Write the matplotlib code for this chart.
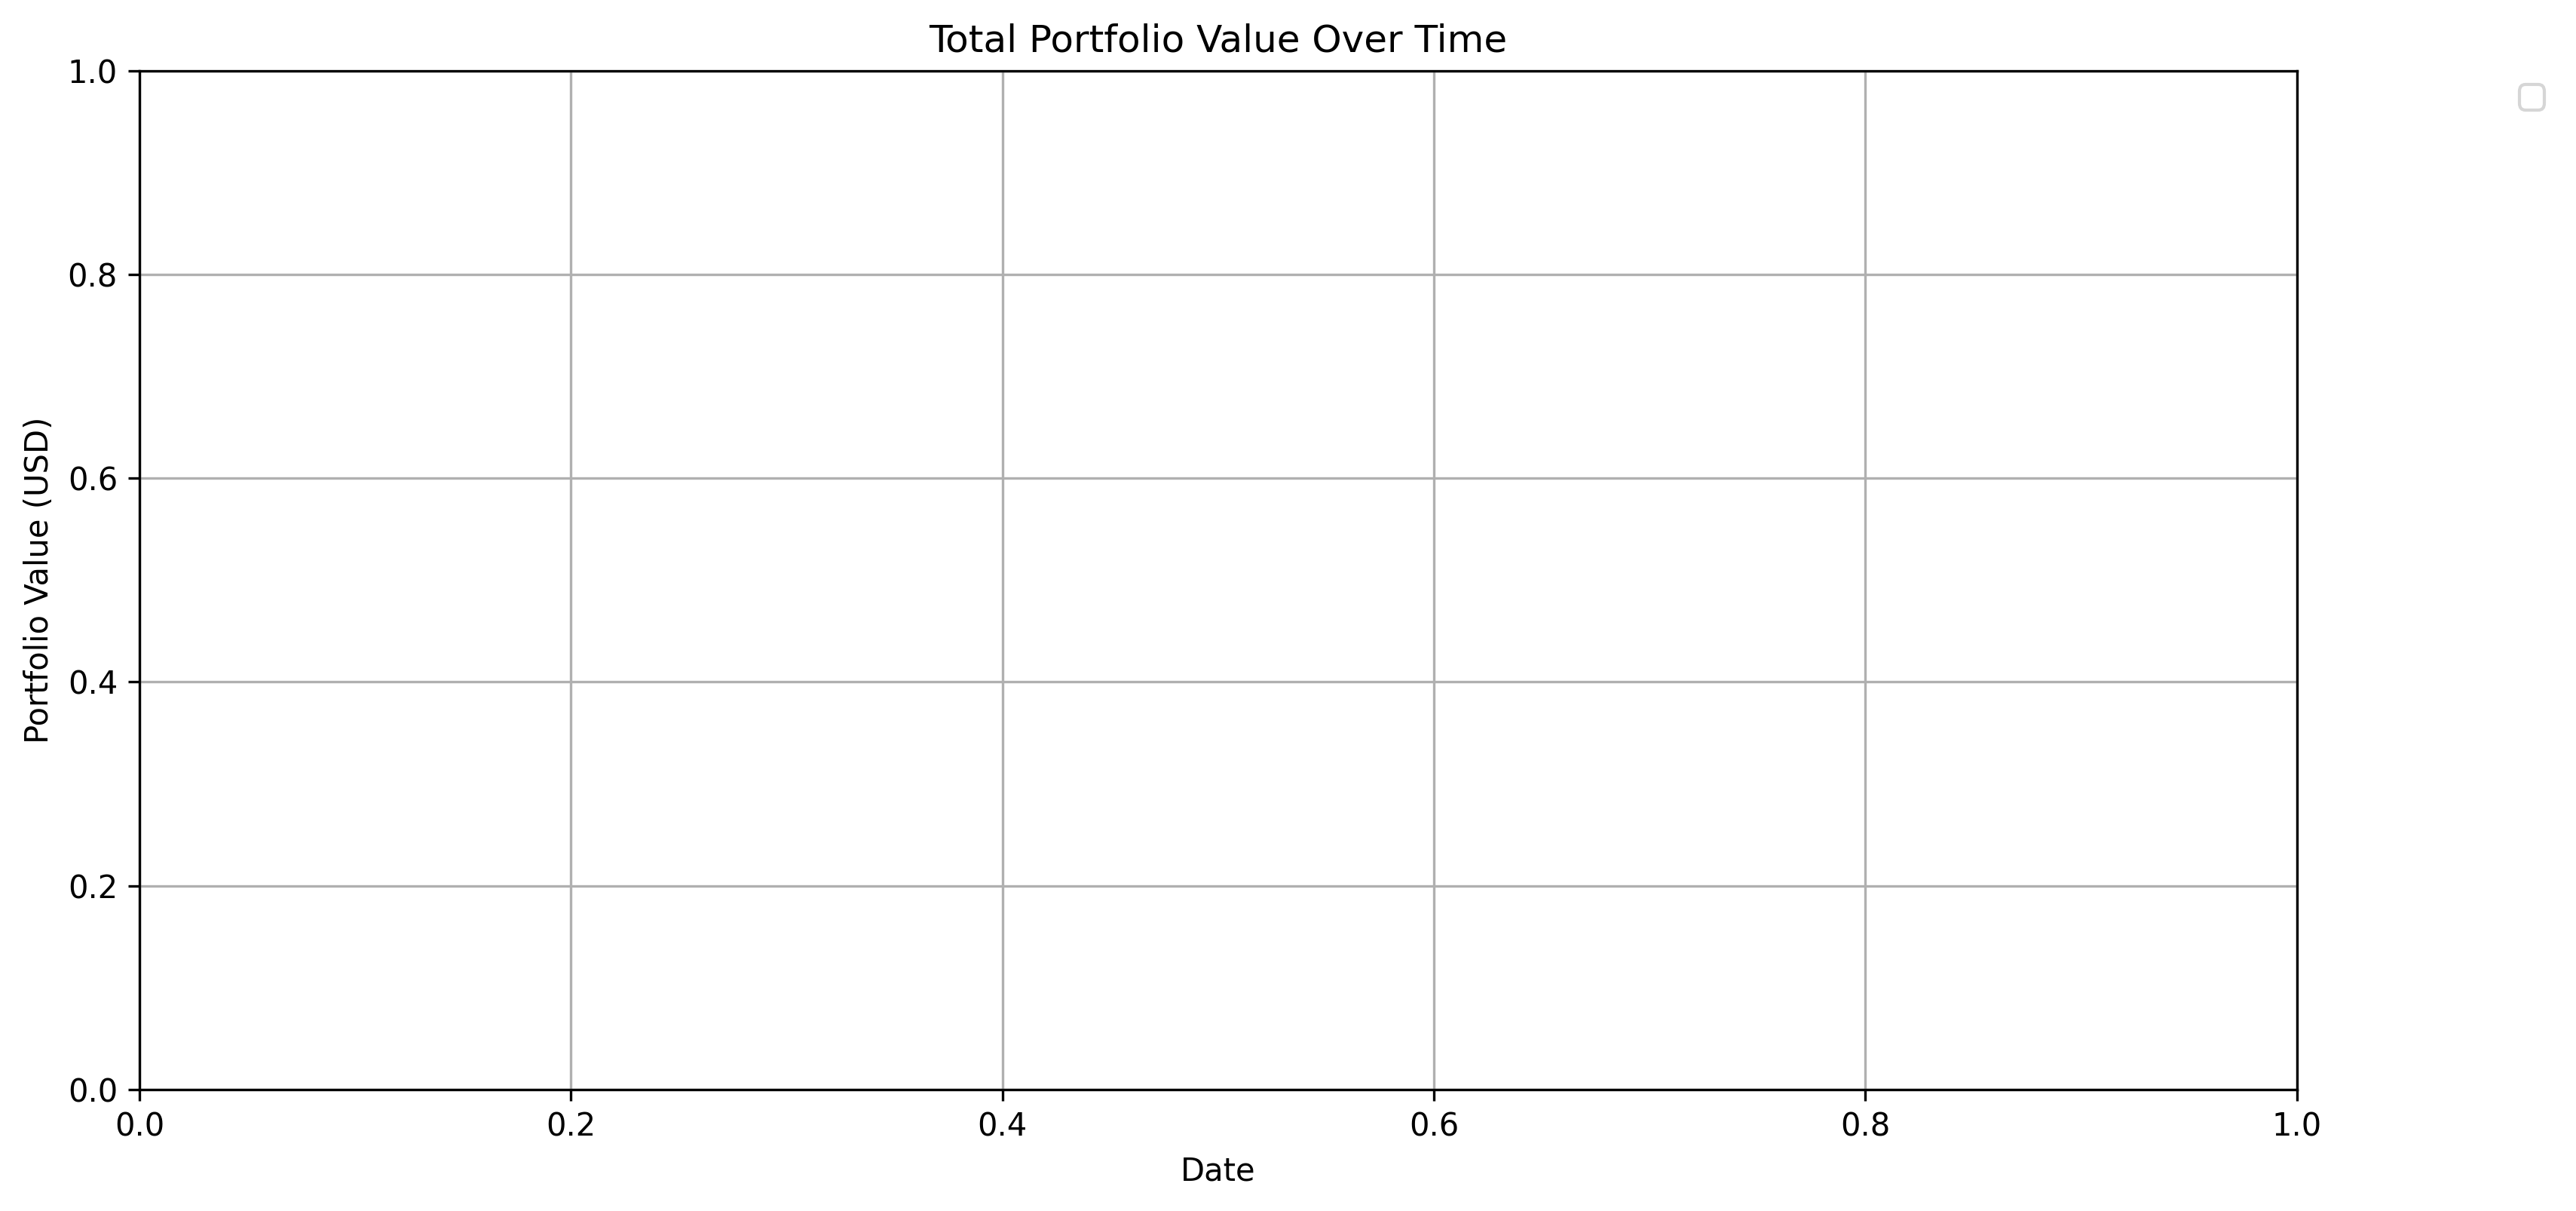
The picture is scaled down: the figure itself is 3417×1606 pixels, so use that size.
import matplotlib
matplotlib.use("Agg")
import matplotlib.pyplot as plt

dates = []
values = []

fig = plt.figure(figsize=(3417/300, 1606/300), dpi=300)
ax = fig.add_axes([0.0542, 0.1004, 0.8374, 0.8413])
ax.plot(dates, values)
ax.set_xlim(0, 1)
ax.set_ylim(0, 1)
ax.set_title("Total Portfolio Value Over Time")
ax.set_xlabel("Date")
ax.set_ylabel("Portfolio Value (USD)")
ax.grid(True)
ax.legend(bbox_to_anchor=(0.978, 0.93), bbox_transform=fig.transFigure,
          loc="upper left", borderaxespad=0)
fig.savefig("out.png", dpi=300)
